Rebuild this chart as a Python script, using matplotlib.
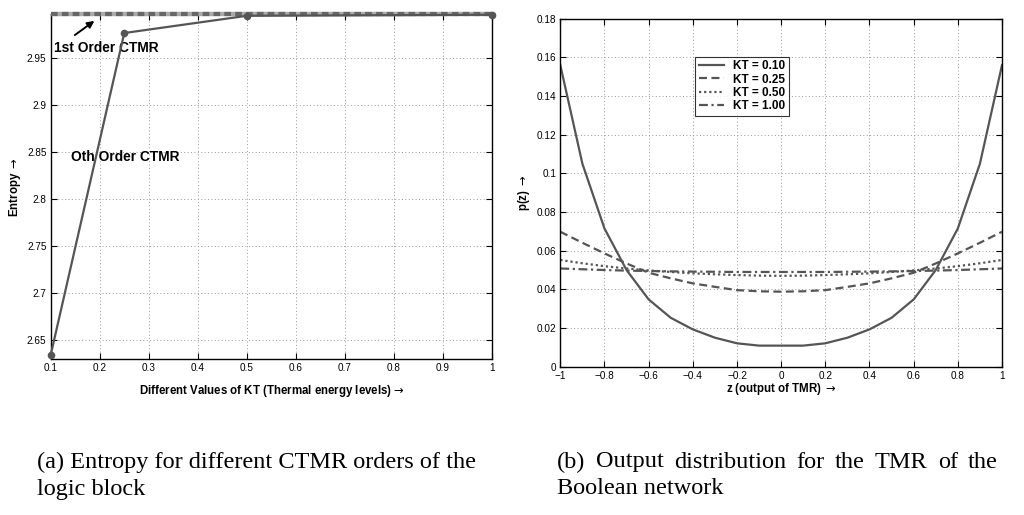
import matplotlib
matplotlib.use("Agg")
import matplotlib.pyplot as plt
import numpy as np

# ---------------- data ----------------
kt_levels = [0.1, 0.25, 0.5, 1.0]
entropy_0th = [2.6344, 2.9762, 2.9945, 2.9956]
entropy_1st = [2.9964, 2.9964, 2.9964, 2.9964]

z_vals = [-1.0, -0.9, -0.8, -0.7, -0.6, -0.5, -0.4, -0.3, -0.2, -0.1, 0.0,
          0.1, 0.2, 0.3, 0.4, 0.5, 0.6, 0.7, 0.8, 0.9, 1.0]
p_kt010 = [0.156, 0.105, 0.0715, 0.050, 0.0348, 0.0253, 0.0193, 0.0150, 0.0121, 0.0109, 0.0109,
           0.0109, 0.0121, 0.0150, 0.0193, 0.0253, 0.0348, 0.050, 0.0715, 0.105, 0.156]
p_kt025 = [0.0698, 0.0641, 0.0586, 0.0534, 0.0486, 0.0457, 0.0431, 0.0413, 0.0396, 0.0390, 0.0388,
           0.0390, 0.0396, 0.0413, 0.0431, 0.0457, 0.0486, 0.0534, 0.0586, 0.0641, 0.0698]
p_kt050 = [0.0552, 0.0535, 0.0520, 0.0508, 0.0498, 0.0490, 0.0483, 0.0478, 0.0474, 0.0471, 0.0470,
           0.0471, 0.0474, 0.0478, 0.0483, 0.0490, 0.0498, 0.0508, 0.0520, 0.0535, 0.0552]
p_kt100 = [0.0508, 0.0504, 0.0500, 0.0497, 0.0495, 0.0493, 0.0492, 0.0491, 0.0490, 0.0490, 0.0490,
           0.0490, 0.0490, 0.0491, 0.0492, 0.0493, 0.0495, 0.0497, 0.0500, 0.0504, 0.0508]
legend_labels = ["KT = 0.10", "KT = 0.25", "KT = 0.50", "KT = 1.00"]

left_xticks = [0.1, 0.2, 0.3, 0.4, 0.5, 0.6, 0.7, 0.8, 0.9, 1.0]
left_xticklabels = ["0.1", "0.2", "0.3", "0.4", "0.5", "0.6", "0.7", "0.8", "0.9", "1"]
left_yticks = [2.65, 2.7, 2.75, 2.8, 2.85, 2.9, 2.95]
left_yticklabels = ["2.65", "2.7", "2.75", "2.8", "2.85", "2.9", "2.95"]
right_xticks = [-1, -0.8, -0.6, -0.4, -0.2, 0, 0.2, 0.4, 0.6, 0.8, 1]
right_xticklabels = ["\u22121", "\u22120.8", "\u22120.6", "\u22120.4", "\u22120.2", "0",
                     "0.2", "0.4", "0.6", "0.8", "1"]
right_yticks = [0, 0.02, 0.04, 0.06, 0.08, 0.1, 0.12, 0.14, 0.16, 0.18]
right_yticklabels = ["0", "0.02", "0.04", "0.06", "0.08", "0.1", "0.12", "0.14", "0.16", "0.18"]

caption_a = ["(a) Entropy for different CTMR orders of the", "logic block"]
caption_b = ["(b) Output distribution for the TMR of the", "Boolean network"]

# ---------------- style ----------------
SANS = ["Liberation Sans", "DejaVu Sans"]
plt.rcParams["font.family"] = SANS
plt.rcParams["mathtext.fontset"] = "dejavusans"
LC = "#555555"
W, H = 1024, 515
fig = plt.figure(figsize=(W / 100, H / 100), dpi=100)
TICK_FS = 7.2
LAB_FS = 8.3
ARROW = r"$\rightarrow$"


def style_axes(ax):
    ax.grid(True, linestyle=(0, (1, 2.5)), color="#9a9a9a", linewidth=0.7)
    ax.tick_params(direction="in", length=4, width=0.8, top=True, right=True,
                   labelsize=TICK_FS, pad=3, colors="black")
    for s in ax.spines.values():
        s.set_linewidth(1.0)
        s.set_color("black")


# ---------------- left plot ----------------
axL = fig.add_axes([50.7 / W, 1 - 359.3 / H, 441.3 / W, 345.3 / H])
axL.plot(kt_levels, entropy_1st, color="#aaaaaa", linewidth=3.2, solid_capstyle="butt",
         clip_on=False, zorder=3)
axL.plot(kt_levels, entropy_1st, color="#666666", linewidth=3.0, linestyle=(0, (1.6, 1.0)),
         clip_on=False, zorder=4)
axL.plot(kt_levels, entropy_0th, color=LC, linewidth=1.6, marker="o", markersize=4.5,
         clip_on=False, zorder=5)
axL.set_xlim(0.1, 1.0)
axL.set_ylim(2.6298, 2.9964)
axL.set_xticks(left_xticks)
axL.set_xticklabels(left_xticklabels)
axL.set_yticks(left_yticks)
axL.set_yticklabels(left_yticklabels)
style_axes(axL)
axL.set_xlabel("Different Values of KT (Thermal energy levels)" + ARROW, fontsize=LAB_FS,
               fontweight="bold", labelpad=7)
axL.set_ylabel("Entropy " + ARROW, fontsize=LAB_FS, fontweight="bold", labelpad=3)
axL.annotate("", xy=(0.1936, 2.9908), xytext=(0.1446, 2.9723),
             arrowprops=dict(arrowstyle="-|>", color="black", lw=1.4, mutation_scale=10))
axL.text(0.1066, 2.9606, "1st Order CTMR", fontsize=9.9, fontweight="bold", va="center", ha="left")
axL.text(0.1404, 2.8449, "Oth Order CTMR", fontsize=9.9, fontweight="bold", va="center", ha="left")

# ---------------- right plot ----------------
axR = fig.add_axes([560.3 / W, 1 - 366.7 / H, 441.7 / W, 348 / H])
styles = ["-", (0, (3.6, 2.0)), (0, (1, 1.3)), (0, (4, 1.6, 1, 1.6))]
for series, lab, ls in zip([p_kt010, p_kt025, p_kt050, p_kt100], legend_labels, styles):
    axR.plot(z_vals, series, color=LC, linewidth=1.6, linestyle=ls, label=lab)
axR.set_xlim(-1, 1)
axR.set_ylim(0, 0.18)
axR.set_xticks(right_xticks)
axR.set_xticklabels(right_xticklabels)
axR.set_yticks(right_yticks)
axR.set_yticklabels(right_yticklabels)
style_axes(axR)
axR.set_xlabel("z (output of TMR) " + ARROW, fontsize=LAB_FS, fontweight="bold", labelpad=0)
axR.set_ylabel("p(z) " + ARROW, fontsize=LAB_FS, fontweight="bold", labelpad=3)
leg = axR.legend(loc="upper left", bbox_to_anchor=(0.3056, 0.891), borderaxespad=0,
                 prop=dict(size=8.5, weight="bold"), frameon=True, fancybox=False,
                 handlelength=2.1, labelspacing=0.12, borderpad=0.3, handletextpad=0.8)
leg.get_frame().set_edgecolor("black")
leg.get_frame().set_linewidth(0.8)

# ---------------- captions ----------------
SERIF = ["Liberation Serif", "DejaVu Serif"]
cap_fs = 17.5
fig.text(37 / W, 1 - 462 / H, caption_a[0], fontsize=cap_fs, family=SERIF, va="center", ha="left")
fig.text(37 / W, 1 - 489 / H, caption_a[1], fontsize=cap_fs, family=SERIF, va="center", ha="left")

# justified first line of caption b
fig.canvas.draw()
renderer = fig.canvas.get_renderer()
words = caption_b[0].split(" ")
x0, x1 = 557, 998
tmp = [fig.text(0, 0, w, fontsize=cap_fs, family=SERIF) for w in words]
widths = [t.get_window_extent(renderer).width for t in tmp]
for t in tmp:
    t.remove()
gap = (x1 - x0 - sum(widths)) / (len(words) - 1)
xp = x0
for w, wd in zip(words, widths):
    fig.text(xp / W, 1 - 462 / H, w, fontsize=cap_fs, family=SERIF, va="center", ha="left")
    xp += wd + gap
fig.text(557 / W, 1 - 489 / H, caption_b[1], fontsize=cap_fs, family=SERIF, va="center", ha="left")

fig.savefig("out.png", dpi=100)
